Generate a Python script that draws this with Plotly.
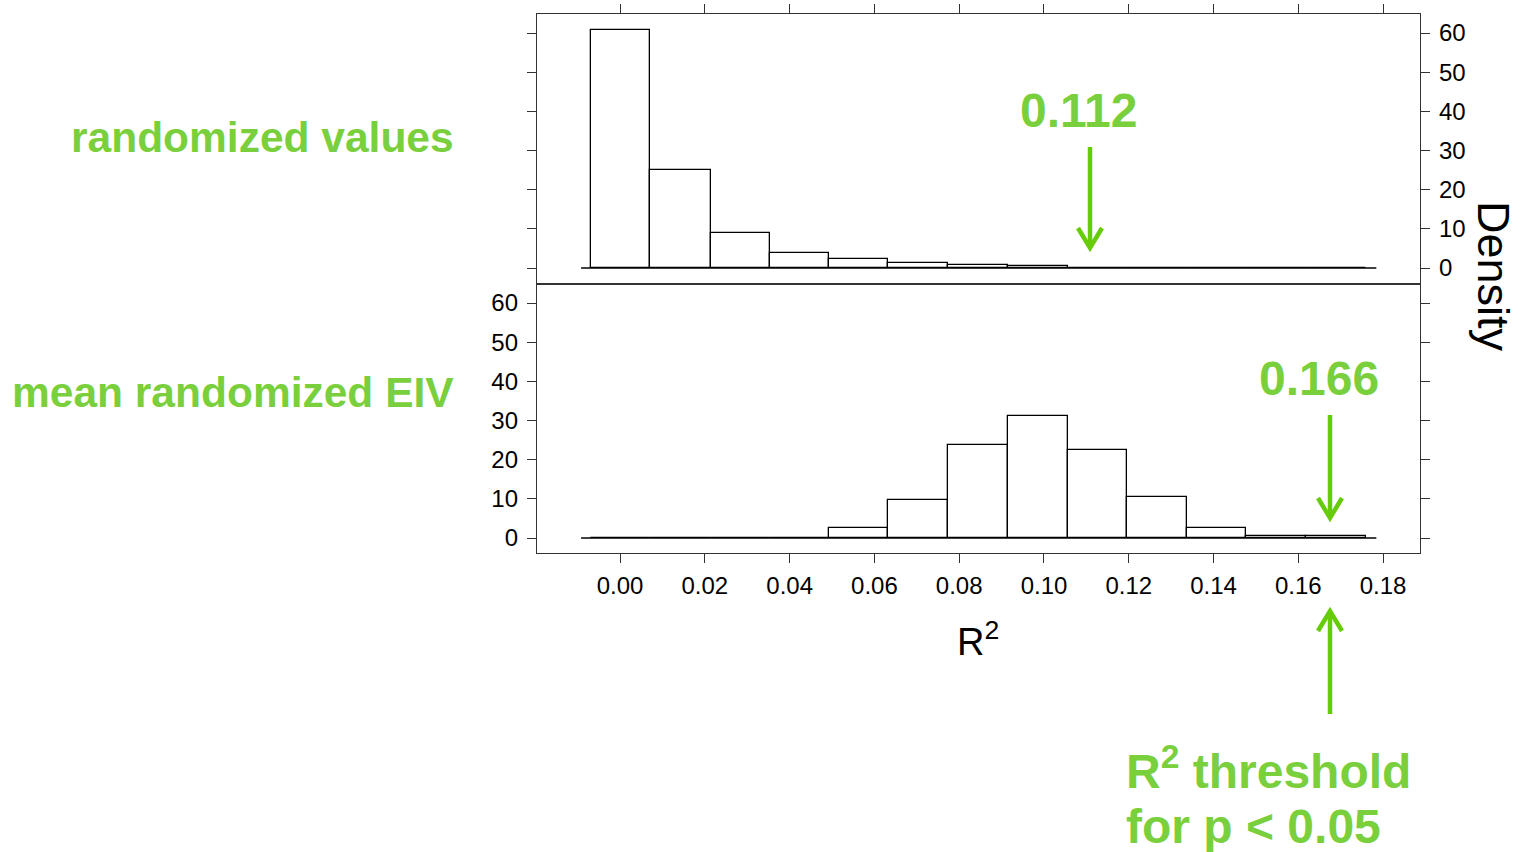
import plotly.graph_objects as go

# ---- data ----
bin_edges = [-0.0068, 0.0071, 0.0215, 0.0354, 0.0493, 0.0632, 0.0774,
             0.0915, 0.1057, 0.1196, 0.1338, 0.1477, 0.1618, 0.1760]
density_randomized = [60.8, 25.0, 8.9, 3.8, 2.2, 1.2, 0.65, 0.6,
                      0.12, 0.1, 0.1, 0.1, 0.1]
density_mean_eiv = [0.08, 0.08, 0.08, 0.08, 2.55, 9.7, 23.7, 31.1,
                    22.5, 10.5, 2.5, 0.5, 0.4]
x_ticks = [0.00, 0.02, 0.04, 0.06, 0.08, 0.10, 0.12, 0.14, 0.16, 0.18]
y_ticks = [0, 10, 20, 30, 40, 50, 60]
baseline_x = [-0.0092, 0.1784]
panel_labels = ["randomized values", "mean randomized EIV"]
value_labels = ["0.112", "0.166"]
threshold_lines = ["R<sup>2</sup> threshold", "for p &lt; 0.05"]

centers = [(a + b) / 2 for a, b in zip(bin_edges[:-1], bin_edges[1:])]
widths = [b - a for a, b in zip(bin_edges[:-1], bin_edges[1:])]

W, H = 1520, 852
L, R, T, B = 537, 100, 14, 299
PW, PH = W - L - R, H - T - B


def X(px):
    return (px - L) / PW


def Y(py):
    return (H - B - py) / PH


FONT = "Liberation Sans, Arial, sans-serif"
TXT_GREEN = "#7ACF3C"
ARR_GREEN = "#66CC0A"
AXC = "#333333"

fig = go.Figure()

for vals, xa, ya in [(density_randomized, "x2", "y2"), (density_mean_eiv, "x", "y")]:
    fig.add_trace(go.Bar(x=centers, y=vals, width=widths, xaxis=xa, yaxis=ya,
                         marker=dict(color="white", line=dict(color="black", width=1.3)),
                         showlegend=False, hoverinfo="x+y"))
    fig.add_trace(go.Scatter(x=baseline_x, y=[0, 0], mode="lines", xaxis=xa, yaxis=ya,
                             line=dict(color="black", width=1.3), showlegend=False,
                             hoverinfo="skip"))

xr = [-0.0196, 0.1887]
common_x = dict(range=xr, tickvals=x_ticks, ticktext=[f"{v:.2f}" for v in x_ticks],
                ticks="outside", ticklen=9, tickwidth=1.2, tickcolor=AXC,
                showline=True, linecolor=AXC, linewidth=1.3, mirror=True,
                showgrid=False, zeroline=False, automargin=False,
                ticklabelstandoff=2,
                tickfont=dict(family=FONT, size=24, color="black"))
common_y = dict(tickvals=y_ticks, ticks="outside", ticklen=9, tickwidth=1.2, tickcolor=AXC,
                showline=True, linecolor=AXC, linewidth=1.3, mirror="ticks",
                showgrid=False, zeroline=False, automargin=False,
                ticklabelstandoff=4,
                tickfont=dict(family=FONT, size=24, color="black"))

split = 269 / PH
fig.update_layout(
    width=W, height=H, margin=dict(l=L, r=R, t=T, b=B, pad=0, autoexpand=False),
    paper_bgcolor="white", plot_bgcolor="white",
    xaxis=dict(**common_x, anchor="y", domain=[0, 1]),
    xaxis2=dict(**common_x, anchor="y2", side="top", showticklabels=False, matches="x"),
    yaxis=dict(**common_y, domain=[0, split], range=[-3.83, 64.85], side="left"),
    yaxis2=dict(**common_y, domain=[split, 1], range=[-4.08, 64.85], side="right"),
    bargap=0,
)

ann = []
ann.append(dict(text=panel_labels[0], x=X(456), y=Y(137), xanchor="right", yanchor="middle",
                font=dict(family=FONT, size=42.5, color=TXT_GREEN, weight="bold")))
ann.append(dict(text=panel_labels[1], x=X(456), y=Y(393), xanchor="right", yanchor="middle",
                font=dict(family=FONT, size=42.5, color=TXT_GREEN, weight="bold")))
ann.append(dict(text=value_labels[0], x=X(1078), y=Y(110), xanchor="center", yanchor="middle",
                font=dict(family=FONT, size=48, color=TXT_GREEN, weight="bold")))
ann.append(dict(text=value_labels[1], x=X(1319), y=Y(378), xanchor="center", yanchor="middle",
                font=dict(family=FONT, size=48, color=TXT_GREEN, weight="bold")))
ann.append(dict(text=threshold_lines[0], x=X(1124), y=Y(768), xanchor="left", yanchor="middle",
                font=dict(family=FONT, size=48, color=TXT_GREEN, weight="bold")))
ann.append(dict(text=threshold_lines[1], x=X(1124), y=Y(826), xanchor="left", yanchor="middle",
                font=dict(family=FONT, size=48, color=TXT_GREEN, weight="bold")))
ann.append(dict(text="R<sup>2</sup>", x=X(978), y=Y(639), xanchor="center", yanchor="middle",
                font=dict(family=FONT, size=38, color="black")))
ann.append(dict(text="Density", x=X(1494), y=Y(276), xanchor="center", yanchor="middle",
                textangle=90, font=dict(family=FONT, size=45, color="black")))
for a in ann:
    a.update(xref="paper", yref="paper", showarrow=False)
fig.update_layout(annotations=ann)

shapes = []
for x0, y_start, y_tip in [(1090, 147, 248), (1330, 415, 518), (1330, 714, 611)]:
    d = 20 if y_tip > y_start else -20
    shapes.append(dict(type="line", xref="paper", yref="paper",
                       x0=X(x0), x1=X(x0), y0=Y(y_start), y1=Y(y_tip - d * 0.1),
                       line=dict(color=ARR_GREEN, width=4.5)))
    path = (f"M {X(x0 - 12)} {Y(y_tip - d)} L {X(x0)} {Y(y_tip)} "
            f"L {X(x0 + 12)} {Y(y_tip - d)}")
    shapes.append(dict(type="path", xref="paper", yref="paper", path=path,
                       line=dict(color=ARR_GREEN, width=4.5)))
fig.update_layout(shapes=shapes)

fig.write_html("out.html")
